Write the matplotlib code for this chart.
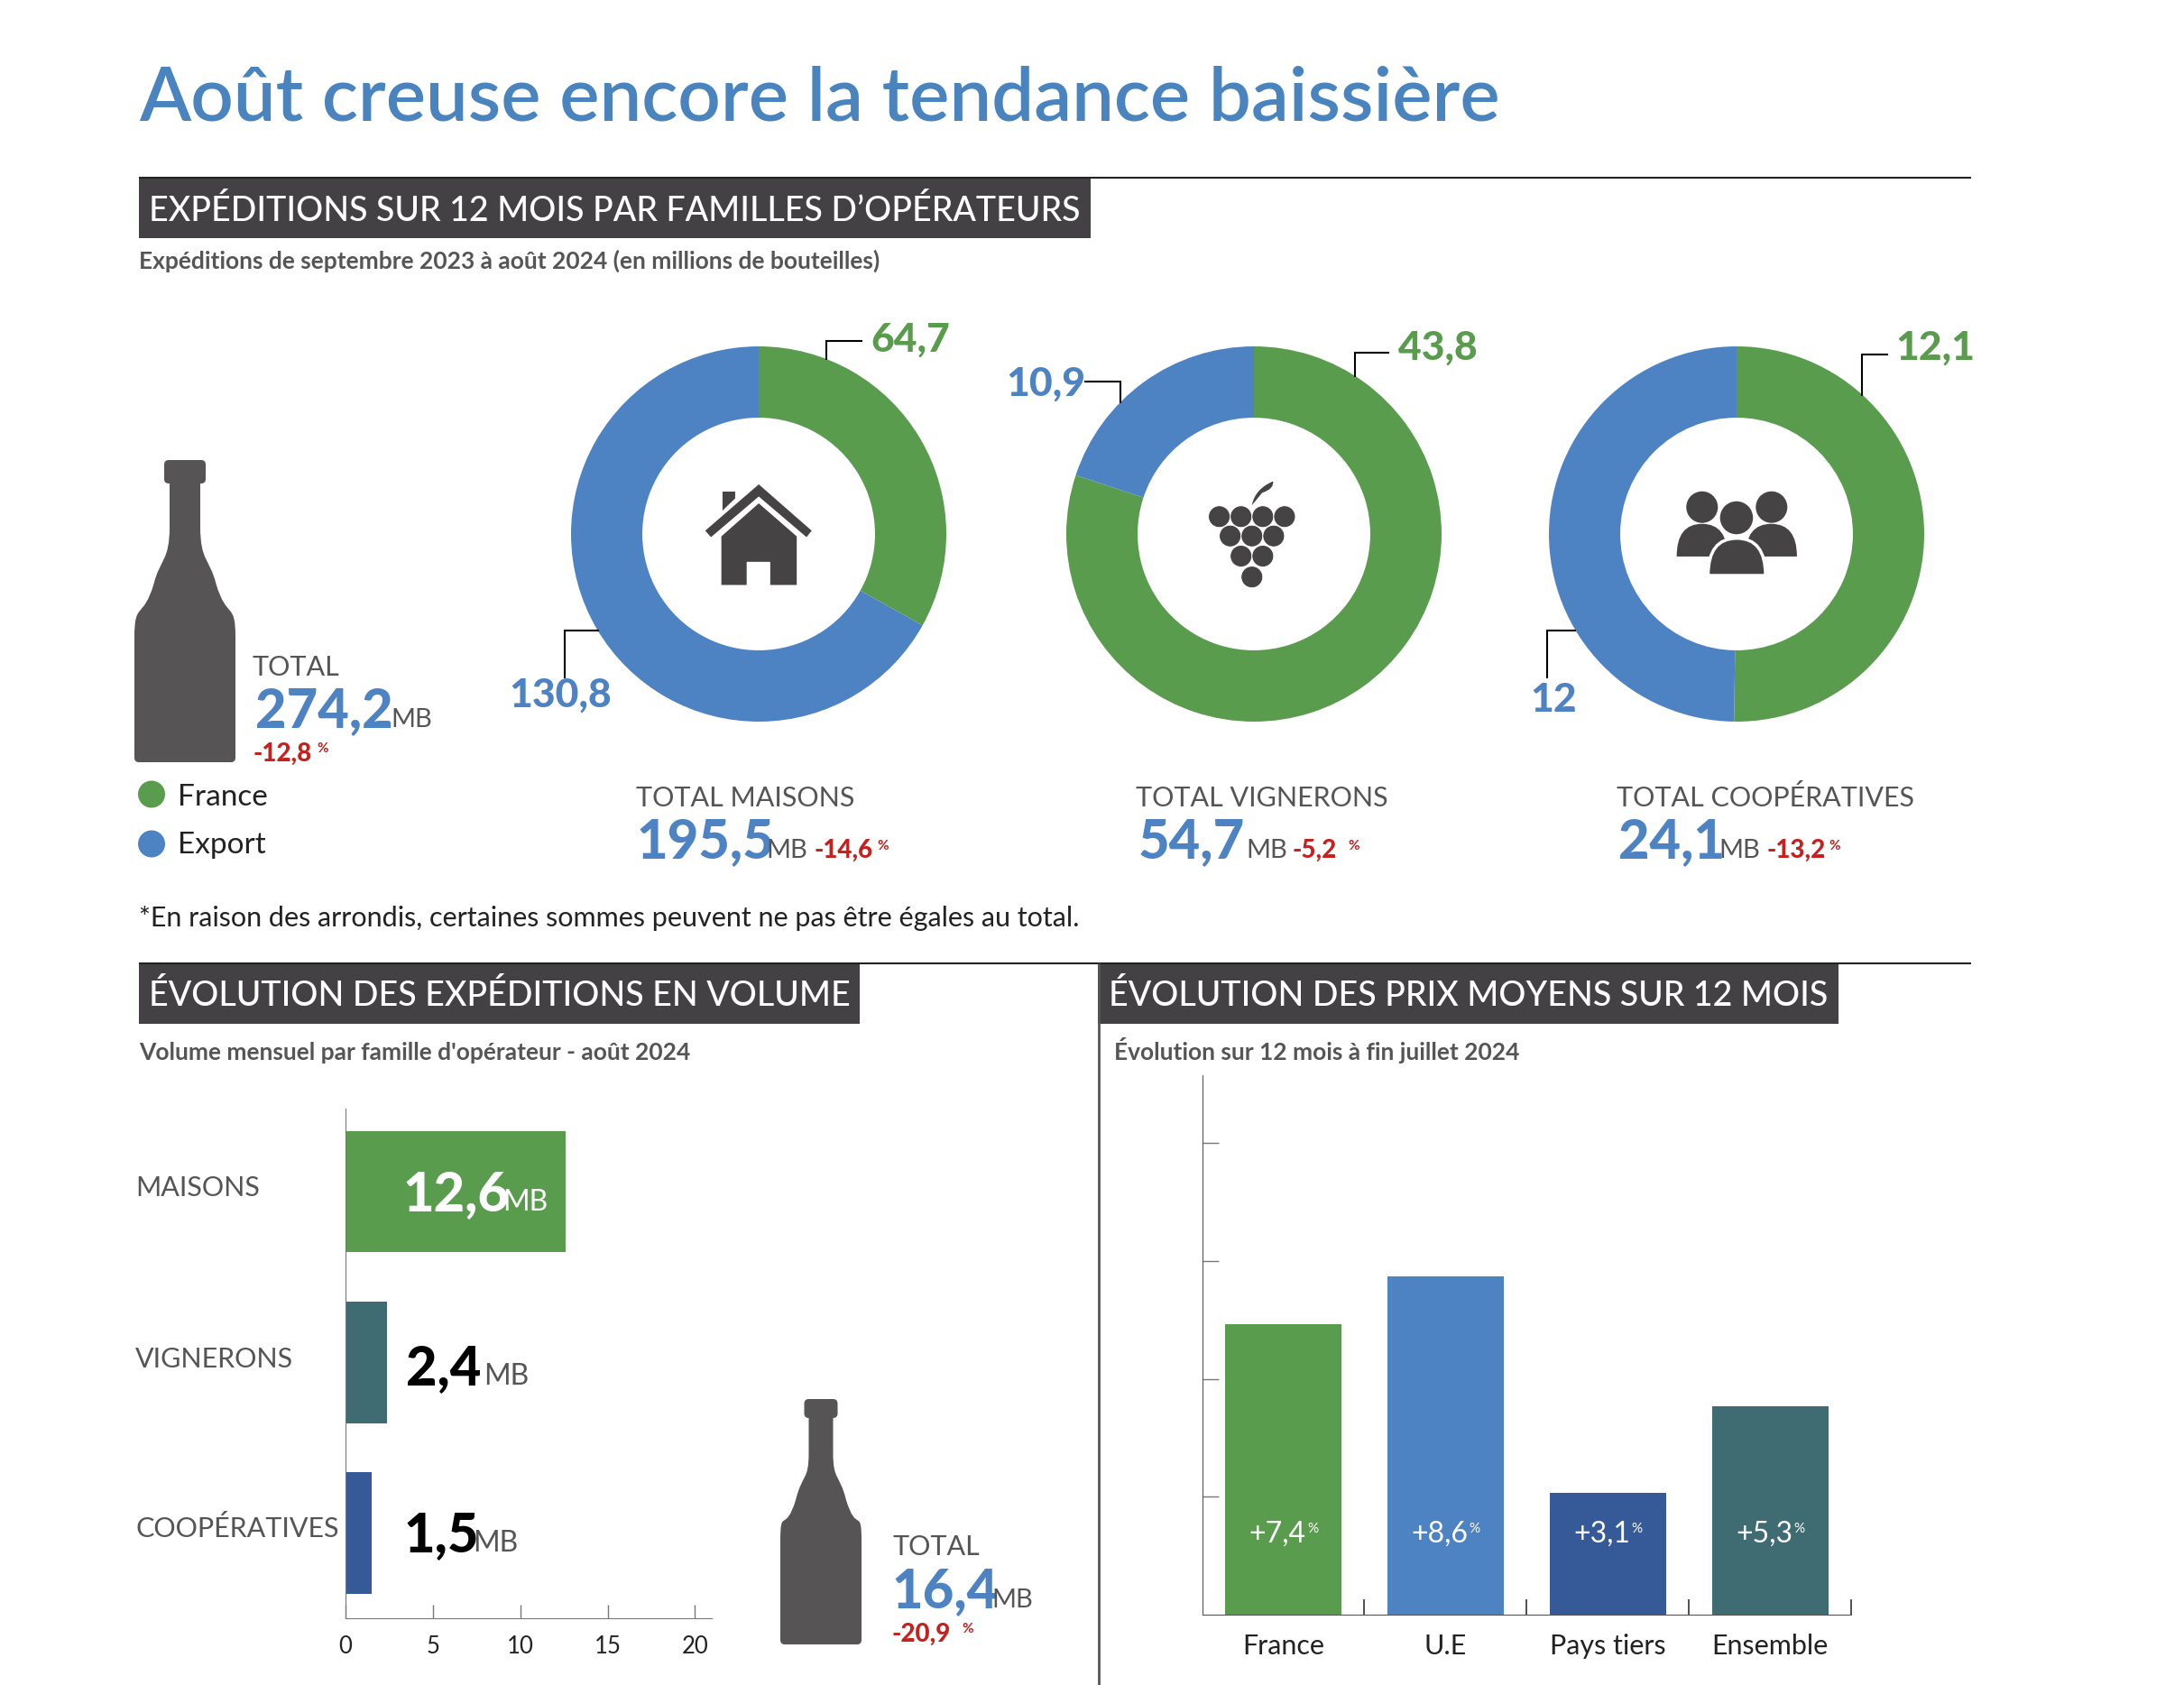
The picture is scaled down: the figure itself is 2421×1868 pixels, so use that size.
import matplotlib
matplotlib.use("Agg")
import matplotlib.pyplot as plt
from matplotlib.patches import PathPatch, Circle, Ellipse, Polygon, Rectangle
from matplotlib.path import Path

W, H = 2421, 1868

# data
families = ["MAISONS", "VIGNERONS", "COOPÉRATIVES"]
france_vol = [64.7, 43.8, 12.1]
export_vol = [130.8, 10.9, 12]
family_totals = [195.5, 54.7, 24.1]
family_changes = [-14.6, -5.2, -13.2]
total_vol = 274.2
total_change = -12.8

month_vol = [12.6, 2.4, 1.5]
month_total = 16.4
month_change = -20.9

price_cats = ["France", "U.E", "Pays tiers", "Ensemble"]
price_vals = [7.4, 8.6, 3.1, 5.3]

GREEN = "#5a9c4d"
BLUE = "#4e83c3"
NAVY = "#365a98"
TEAL = "#3f6b72"
DARK = "#434143"
BOTTLE = "#565455"
ICON = "#454344"
GREY = "#555555"
RED = "#c4211f"
TITLE = "#4a84bf"

plt.rcParams["font.family"] = ["Lato", "DejaVu Sans"]

fig = plt.figure(figsize=(W / 100, H / 100), dpi=100, facecolor="white")


def axes_px(left, top, right, bottom, **kw):
    return fig.add_axes([left / W, 1 - bottom / H, (right - left) / W, (bottom - top) / H], **kw)


def fr(v):
    return str(v).replace(".", ",")


# layer in pixel coordinates for texts, rules and icons
ov = axes_px(0, 0, W, H, zorder=10)
ov.set_xlim(0, W)
ov.set_ylim(H, 0)
ov.axis("off")
ov.patch.set_alpha(0)


def txt(x, y, s, size, color=GREY, weight="normal", ha="left"):
    return ov.text(x, y, s, fontsize=size, color=color, fontweight=weight, ha=ha, va="baseline")


def line(xs, ys, color="black", lw=1.5):
    ov.plot(xs, ys, color=color, lw=lw, solid_capstyle="butt", solid_joinstyle="miter")


def bottle(cx, top, cap_b, neck_b, body_t, bottom, cap_hw, neck_hw, body_hw):
    mid_x = neck_hw + (body_hw - neck_hw) * 0.45
    mid_y = neck_b + (body_t - neck_b) * 0.52
    verts = [(cx - neck_hw, cap_b), (cx - neck_hw, neck_b),
             (cx - neck_hw, neck_b + (mid_y - neck_b) * 0.6), (cx - mid_x + 7, mid_y - 28), (cx - mid_x, mid_y),
             (cx - mid_x - 12, mid_y + 40), (cx - body_hw, body_t - 40), (cx - body_hw, body_t),
             (cx - body_hw, bottom - 5),
             (cx - body_hw, bottom), (cx - body_hw + 5, bottom),
             (cx + body_hw - 5, bottom),
             (cx + body_hw, bottom), (cx + body_hw, bottom - 5),
             (cx + body_hw, body_t),
             (cx + body_hw, body_t - 40), (cx + mid_x + 12, mid_y + 40), (cx + mid_x, mid_y),
             (cx + mid_x - 7, mid_y - 28), (cx + neck_hw, neck_b + (mid_y - neck_b) * 0.6), (cx + neck_hw, neck_b),
             (cx + neck_hw, cap_b), (cx - neck_hw, cap_b)]
    codes = [Path.MOVETO, Path.LINETO, Path.CURVE4, Path.CURVE4, Path.CURVE4, Path.CURVE4, Path.CURVE4, Path.CURVE4,
             Path.LINETO, Path.CURVE3, Path.CURVE3, Path.LINETO, Path.CURVE3, Path.CURVE3, Path.LINETO,
             Path.CURVE4, Path.CURVE4, Path.CURVE4, Path.CURVE4, Path.CURVE4, Path.CURVE4, Path.LINETO, Path.CLOSEPOLY]
    ov.add_patch(PathPatch(Path(verts, codes), fc=BOTTLE, ec="none"))
    r = 5
    cap = [(cx - cap_hw + r, top), (cx + cap_hw - r, top), (cx + cap_hw, top), (cx + cap_hw, top + r),
           (cx + cap_hw, cap_b - r), (cx + cap_hw, cap_b), (cx + cap_hw - r, cap_b),
           (cx - cap_hw + r, cap_b), (cx - cap_hw, cap_b), (cx - cap_hw, cap_b - r),
           (cx - cap_hw, top + r), (cx - cap_hw, top), (cx - cap_hw + r, top), (cx - cap_hw + r, top)]
    cap_codes = [Path.MOVETO, Path.LINETO, Path.CURVE3, Path.CURVE3, Path.LINETO, Path.CURVE3, Path.CURVE3,
                 Path.LINETO, Path.CURVE3, Path.CURVE3, Path.LINETO, Path.CURVE3, Path.CURVE3, Path.CLOSEPOLY]
    ov.add_patch(PathPatch(Path(cap, cap_codes), fc=BOTTLE, ec="none"))


# title and section headers
txt(154, 133, "Août creuse encore la tendance baissière", 60, TITLE, "semibold")

line([154, 2185], [197, 197], "#222222", 1.5)
line([154, 2185], [1067.5, 1067.5], "#222222", 1.5)
line([1217.5, 1217.5], [1068, H], "#555555", 2)

headers = [(154, 198, 1209, 264, 165, 245, "EXPÉDITIONS SUR 12 MOIS PAR FAMILLES D’OPÉRATEURS"),
           (154, 1068, 953, 1135, 165, 1115, "ÉVOLUTION DES EXPÉDITIONS EN VOLUME"),
           (1217, 1068, 2038, 1135, 1229, 1115, "ÉVOLUTION DES PRIX MOYENS SUR 12 MOIS")]
for x0, y0, x1, y1, tx, ty, s in headers:
    ov.add_patch(Rectangle((x0, y0), x1 - x0, y1 - y0, fc=DARK, ec="none"))
    txt(tx, ty, s, 27, "white", "medium")

txt(154, 298, "Expéditions de septembre 2023 à août 2024 (en millions de bouteilles)", 19, GREY, "bold")
txt(154, 1175, "Volume mensuel par famille d'opérateur - août 2024", 19, GREY, "bold")
txt(1235, 1175, "Évolution sur 12 mois à fin juillet 2024", 19, GREY, "bold")
txt(154, 1027, "*En raison des arrondis, certaines sommes peuvent ne pas être égales au total.", 22, "#222222")

# donuts
centers = [841, 1390, 1925]
for cx, fv, ev in zip(centers, france_vol, export_vol):
    ax = axes_px(cx - 208, 592 - 208, cx + 208, 592 + 208)
    ax.pie([fv, ev], colors=[GREEN, BLUE], startangle=90, counterclock=False, radius=1,
           wedgeprops={"width": 0.38, "linewidth": 0})
    ax.set_xlim(-1, 1)
    ax.set_ylim(-1, 1)

# leader lines
line([916, 916, 956], [399, 378, 378])
line([664, 625.5, 625.5], [699, 699, 752])
line([1501.5, 1501.5, 1540], [418, 390.5, 390.5])
line([1202, 1242, 1242], [423, 423, 447])
line([2064, 2064, 2093], [439, 393, 393])
line([1747, 1715, 1715], [699, 699, 752])

txt(965, 390, fr(france_vol[0]), 32, GREEN, "black")
txt(564, 784, fr(export_vol[0]), 32, BLUE, "black")
txt(1550, 399, fr(france_vol[1]), 32, GREEN, "black")
txt(1115, 439, fr(export_vol[1]), 32, BLUE, "black")
txt(2101, 399, fr(france_vol[2]), 32, GREEN, "black")
txt(1696, 789, fr(export_vol[2]), 32, BLUE, "black")

# left total
bottle(205, 510, 536, 584, 706, 845, 23, 17, 56)
txt(280, 749, "TOTAL", 22)
txt(283, 806, fr(total_vol), 43, BLUE, "black")
txt(433, 806, "MB", 21)
txt(280, 844, fr(total_change), 20, RED, "black")
txt(351, 834, "%", 11, RED, "bold")

# legend
ov.add_patch(Circle((168, 880.5), 15, fc=GREEN, ec="none"))
ov.add_patch(Circle((168, 935.5), 15, fc=BLUE, ec="none"))
txt(197, 893, "France", 24, "#222222")
txt(197, 946, "Export", 24, "#222222")

# totals under the donuts
tot_x = [(705, 706, 849, 902, 972), (1259, 1262, 1381, 1433, 1494), (1792, 1794, 1905, 1958, 2027)]
tot_names = ["TOTAL " + f for f in families]
for (lx, vx, mx, cx, px), name, v, c in zip(tot_x, tot_names, family_totals, family_changes):
    txt(lx, 893.5, name, 22)
    txt(vx, 951, fr(v), 43, BLUE, "black")
    txt(mx, 951, "MB", 21)
    txt(cx, 951, fr(c), 20, RED, "black")
    txt(px, 942, "%", 11, RED, "bold")


# house icon
def hx(px):
    return 130 + px / 1.568


def hy(py):
    return 340 + py / 2.376


def poly_h(pts):
    ov.add_patch(Polygon([(hx(a), hy(b)) for a, b in pts], closed=True, fc=ICON, ec="none"))


poly_h([(1115, 468), (1207, 590), (1198, 607), (1115, 500), (1032, 607), (1022, 590)])
poly_h([(1052, 487), (1074, 487), (1074, 505), (1052, 537)])
poly_h([(1115, 518), (1181, 605), (1181, 733), (1135, 733), (1135, 672), (1094, 672), (1094, 733), (1050, 733),
        (1050, 605)])


# grapes icon
def gx(px):
    return 1150 + px / 1.493


rows = [(553, [301, 337, 373, 409]), (604, [319, 355, 391]), (657, [337, 373]), (712, [355])]
for py, xs in rows:
    for px in xs:
        ov.add_patch(Circle((gx(px), hy(py)), 12, fc=ICON, ec="white", lw=0.6))
leaf = Path([(gx(355), hy(523)), (gx(360), hy(480)), (gx(390), hy(460)),
             (gx(392), hy(480)), (gx(372), hy(490)), (gx(355), hy(523)), (gx(355), hy(523))],
            [Path.MOVETO, Path.CURVE3, Path.CURVE3, Path.CURVE3, Path.CURVE3, Path.LINETO, Path.CLOSEPOLY])
ov.add_patch(PathPatch(leaf, fc=ICON, ec="none"))


# people icon
def dome(x0, x1, top, bottom, **kw):
    mid = (x0 + x1) / 2
    p = Path([(gx(x0), hy(bottom)), (gx(x0), hy(top)), (gx(mid), hy(top)), (gx(x1), hy(top)), (gx(x1), hy(bottom)),
              (gx(x0), hy(bottom))],
             [Path.MOVETO, Path.CURVE3, Path.CURVE3, Path.CURVE3, Path.CURVE3, Path.CLOSEPOLY])
    ov.add_patch(PathPatch(p, **kw))


dome(1058, 1142, 572, 658, fc=ICON, ec="none")
dome(1172, 1257, 572, 658, fc=ICON, ec="none")
ov.add_patch(Ellipse((gx(1100), hy(528)), 35, 35, fc=ICON, ec="none"))
ov.add_patch(Ellipse((gx(1215), hy(528)), 35, 35, fc=ICON, ec="none"))
ov.add_patch(Rectangle((gx(1100), hy(658)), gx(1215) - gx(1100), 30, fc="white", ec="none"))
dome(1110, 1205, 610, 708, fc=ICON, ec="white", lw=2.5)
ov.add_patch(Ellipse((gx(1157), hy(556)), 40, 40, fc=ICON, ec="white", lw=2.5))

# monthly volume bars
ax1 = axes_px(383, 1229, 789, 1793.5)
bar_colors = [GREEN, TEAL, NAVY]
ax1.barh(range(3), month_vol, height=0.713, color=bar_colors, linewidth=0)
ax1.set_xlim(0, 20.96)
ax1.set_ylim(2.497, -0.486)
ax1.set_yticks([])
ax1.set_xticks([0, 5, 10, 15, 20])
ax1.tick_params(axis="x", direction="in", length=11, width=1, color="#777777", labelsize=18.5, labelcolor="#222222",
                pad=14)
for s in ["top", "right"]:
    ax1.spines[s].set_visible(False)
for s in ["left", "bottom"]:
    ax1.spines[s].set_color("#777777")

for name, y in zip(families, [1326.5, 1516.5, 1704.5]):
    txt(150, y, name, 22)

val_pos = [(447, 557, 1342, "white"), (450, 536, 1535, "black"), (448, 524, 1720.5, "black")]
for v, (vx, mx, y, col) in zip(month_vol, val_pos):
    txt(vx, y, fr(v), 43, col, "black")
    txt(mx, y, "MB", 23, GREY if col == "black" else "white")

bottle(910, 1551, 1572, 1611, 1709, 1823, 18.5, 13.5, 45)
txt(989, 1724, "TOTAL", 22)
txt(989, 1782.5, fr(month_total), 43, BLUE, "black")
txt(1099, 1782.5, "MB", 21)
txt(989, 1820, fr(month_change), 20, RED, "black")
txt(1066, 1810, "%", 11, RED, "bold")

# price bars
ax2 = axes_px(1332.6, 1192, 2052, 1790)
ax2.bar(range(4), price_vals, width=0.717, color=[GREEN, BLUE, NAVY, TEAL], linewidth=0)
ax2.set_xlim(-0.5, 3.5)
ax2.set_ylim(0, 13.73)
ax2.set_yticks([3, 6, 9, 12])
ax2.set_yticklabels([])
ax2.tick_params(axis="y", direction="in", length=13, width=1, color="#777777")
ax2.set_xticks(range(4))
ax2.set_xticklabels(price_cats, fontsize=22, color="#222222")
ax2.tick_params(axis="x", which="major", length=0, pad=15)
ax2.set_xticks([0.5, 1.5, 2.5, 3.5], minor=True)
ax2.tick_params(axis="x", which="minor", direction="in", length=12, width=1.2, color="#333333")
for s in ["top", "right"]:
    ax2.spines[s].set_visible(False)
for s in ["left", "bottom"]:
    ax2.spines[s].set_color("#555555")

for i, v in enumerate(price_vals):
    ax2.annotate("+" + fr(v), (i, 1.84), xytext=(18, 0), textcoords="offset points", ha="right", va="baseline",
                 fontsize=23, color="white")
    ax2.annotate("%", (i, 1.84), xytext=(19, 8), textcoords="offset points", ha="left", va="baseline",
                 fontsize=11, color="white")

fig.savefig("out.png", dpi=100)
